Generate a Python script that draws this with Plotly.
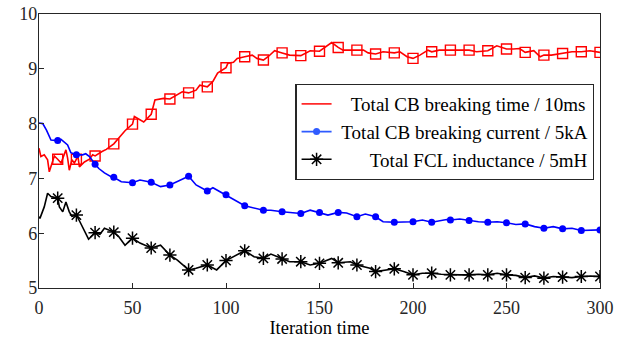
import plotly.graph_objects as go

# ---- data ----
time_x = [0, 1, 2.8, 4.6, 5.5, 7, 8.2, 10, 11.8, 14.4, 15.3, 16.2, 17.6, 18.9, 20, 20.7, 21.6, 24.3, 27, 28.7,
          30, 33.7, 36, 40, 42.6, 46, 50, 51, 56, 60, 62, 66.6, 70, 73.8, 76.6, 80, 84, 86, 90, 93, 95.5,
          100, 101, 104, 106, 110, 114, 116.5, 120, 122.5, 126, 130, 134, 140, 145, 150, 156.5, 160, 162.6,
          170, 173.5, 176, 180, 184, 190, 193, 196.8, 200, 203.7, 208, 210, 214, 220, 224, 230, 234, 240,
          244.8, 250, 253.7, 257, 260, 264.6, 268, 270, 274, 280, 285, 290, 294.6, 300]
time_y = [7.55, 7.40, 7.43, 7.34, 7.12, 7.28, 7.41, 7.35, 7.28, 7.52, 7.37, 7.15, 7.34, 7.28, 7.35, 7.43, 7.21,
          7.30, 7.35, 7.43, 7.41, 7.49, 7.53, 7.63, 7.73, 7.87, 7.99, 8.13, 8.03, 8.17, 8.43, 8.46, 8.45, 8.52,
          8.58, 8.56, 8.61, 8.70, 8.67, 8.77, 8.92, 9.02, 9.10, 9.12, 9.19, 9.22, 9.25, 9.19, 9.16, 9.22, 9.33,
          9.29, 9.25, 9.24, 9.33, 9.32, 9.48, 9.39, 9.34, 9.34, 9.34, 9.29, 9.27, 9.31, 9.29, 9.31, 9.22, 9.19,
          9.25, 9.34, 9.31, 9.34, 9.34, 9.33, 9.34, 9.31, 9.33, 9.42, 9.36, 9.36, 9.37, 9.30, 9.33, 9.22, 9.25,
          9.25, 9.28, 9.31, 9.31, 9.33, 9.30]

curr_x = [0, 2, 4, 6.4, 10, 11.8, 15.3, 17, 20, 23.3, 25, 27, 30, 32, 35, 39, 40, 44, 50, 54, 60, 65, 70, 74,
          80, 84, 90, 93, 100, 104, 110, 120, 124, 130, 134, 140, 145, 150, 154.5, 160, 164.5, 170, 174.5, 180,
          184, 190, 200, 205, 210, 218, 220, 225, 230, 235, 240, 245, 250, 255, 260, 265, 270, 275, 280, 285,
          290, 295, 300]
curr_y = [8.01, 8.00, 7.88, 7.70, 7.69, 7.71, 7.61, 7.47, 7.43, 7.43, 7.45, 7.40, 7.26, 7.18, 7.10, 7.02, 7.02,
          6.94, 6.92, 6.97, 6.93, 6.85, 6.88, 6.94, 7.04, 6.88, 6.77, 6.83, 6.70, 6.62, 6.50, 6.42, 6.42, 6.39,
          6.38, 6.36, 6.42, 6.38, 6.33, 6.38, 6.37, 6.30, 6.35, 6.30, 6.21, 6.20, 6.21, 6.24, 6.20, 6.25, 6.24,
          6.26, 6.23, 6.21, 6.20, 6.21, 6.19, 6.16, 6.17, 6.12, 6.09, 6.12, 6.08, 6.09, 6.05, 6.06, 6.06]

ind_x = [0, 0.5, 2.8, 4.6, 6.4, 10, 10.9, 12.7, 14.4, 16.2, 17.6, 20, 22, 26.5, 30, 32.6, 35, 40, 42.6, 46, 50,
         54, 60, 65, 70, 74, 80, 84, 90, 95, 100, 104, 110, 115, 120, 124, 130, 134, 140, 145, 150, 156.5, 160,
         166.5, 170, 177, 180, 190, 195, 200, 205, 210, 215, 220, 225, 230, 235, 240, 245, 250, 255, 260, 265,
         270, 275, 280, 285, 290, 295, 300]
ind_y = [6.30, 6.27, 6.48, 6.73, 6.67, 6.64, 6.48, 6.39, 6.57, 6.39, 6.31, 6.33, 6.20, 5.89, 6.01, 5.98, 6.09,
         6.02, 5.94, 5.78, 5.91, 5.82, 5.73, 5.78, 5.60, 5.51, 5.33, 5.36, 5.42, 5.33, 5.50, 5.57, 5.68, 5.57,
         5.54, 5.62, 5.53, 5.48, 5.48, 5.42, 5.45, 5.54, 5.46, 5.48, 5.42, 5.36, 5.30, 5.35, 5.30, 5.24, 5.27,
         5.27, 5.25, 5.24, 5.24, 5.24, 5.25, 5.24, 5.27, 5.24, 5.23, 5.19, 5.22, 5.18, 5.21, 5.20, 5.19, 5.21,
         5.22, 5.21]

series_names = ["Total CB breaking time / 10ms",
                "Total CB breaking current / 5kA",
                "Total FCL inductance / 5mH"]
marker_step = 10   # markers at iterations 10, 20, ..., 300
x_ticks = [0, 50, 100, 150, 200, 250, 300]
y_ticks = [5, 6, 7, 8, 9, 10]

FONT = "Liberation Serif"


def at_markers(xs, ys):
    keep = [(x, y) for x, y in zip(xs, ys) if x > 0 and x % marker_step == 0]
    return [k[0] for k in keep], [k[1] for k in keep]


fig = go.Figure()

specs = [
    (time_x, time_y, "#ff0000", "#ff2a2a", dict(symbol="square-open", size=10, color="#ff0000", line=dict(width=1.4)), False),
    (curr_x, curr_y, "#0000ff", "#2f5bff", dict(symbol="circle", size=7, color="#0000ff"), True),
    (ind_x, ind_y, "#000000", "#000000", dict(symbol="asterisk-open", size=11, color="#000000", line=dict(width=1.5)), True),
]

for (xs, ys, col, lcol, mk, legend_marker), name in zip(specs, series_names):
    fig.add_trace(go.Scatter(x=xs, y=ys, mode="lines", line=dict(color=col, width=1.6),
                             showlegend=False, hoverinfo="skip"))
    mx, my = at_markers(xs, ys)
    fig.add_trace(go.Scatter(x=mx, y=my, mode="markers", marker=mk, showlegend=False))

# legend proxies (names padded so the texts end roughly right-aligned, as in the reference)
pads = ["\u00a0\u00a0\u00a0", "\u00a0", "\u00a0\u00a0\u00a0\u00a0\u00a0\u00a0\u00a0"]
for (xs, ys, col, lcol, mk, legend_marker), name, pad in zip(specs, series_names, pads):
    if legend_marker:
        lm = dict(mk)
        lm["color"] = lcol
        fig.add_trace(go.Scatter(x=[None], y=[None], mode="lines+markers", name=pad + name,
                                 line=dict(color=lcol, width=1.6), marker=lm))
    else:
        fig.add_trace(go.Scatter(x=[None], y=[None], mode="lines", name=pad + name,
                                 line=dict(color=lcol, width=1.6)))

axis_common = dict(showgrid=False, zeroline=False, showline=True, mirror=True, automargin=False,
                   linecolor="#262626", linewidth=1.3, ticks="inside", ticklen=5,
                   tickcolor="#262626", tickwidth=1.2,
                   tickfont=dict(family=FONT, size=18, color="#262626"))

fig.update_layout(
    width=636, height=338,
    margin=dict(l=39, r=36, t=14, b=50),
    paper_bgcolor="white", plot_bgcolor="white",
    font=dict(family=FONT, size=18, color="#000000"),
    xaxis=dict(range=[0, 300], tickvals=x_ticks, ticklabelstandoff=3,
               title=dict(text="Iteration time", font=dict(family=FONT, size=18.5, color="#000000"), standoff=0),
               **axis_common),
    yaxis=dict(range=[5, 10], tickvals=y_ticks, ticklabelstandoff=-3, **axis_common),
    legend=dict(x=0.457, y=0.745, xanchor="left", yanchor="top",
                bgcolor="white", bordercolor="#262626", borderwidth=1.2,
                font=dict(family=FONT, size=19, color="#000000"),
                itemwidth=30),
)

fig.write_html("out.html", config={"displayModeBar": False},
               post_script="document.body.style.margin='0';")
